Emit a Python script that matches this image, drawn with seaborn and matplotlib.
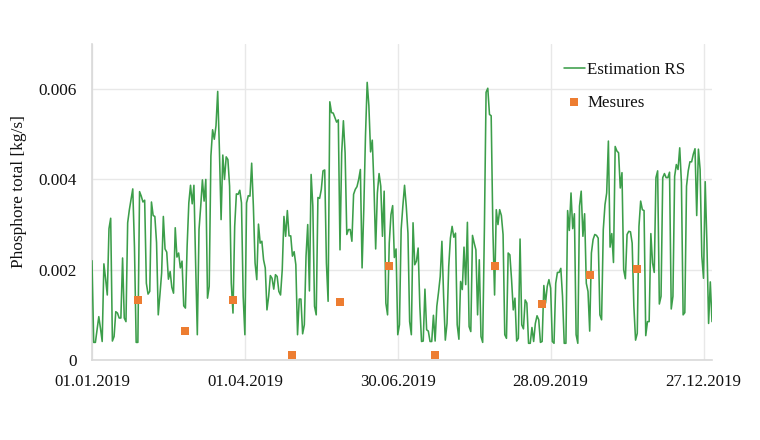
import numpy as np
import pandas as pd
import matplotlib.pyplot as plt
import matplotlib.dates as mdates
import seaborn as sns

# daily estimate, in g/s, from 01.01.2019
estimation_gs = [
    2.2, .39, .39, .68, .96, .7, .41, 2.13, 1.8, 1.44, 2.91, 3.14, .42, .52, 1.07, 1.04, .93, .93, 2.26, .93,
    .85, 3.04, 3.33, 3.56, 3.79, 2.5, .39, .39, 3.73, 3.63, 3.5, 3.54, 1.7, 1.46, 1.52, 3.5, 3.2, 3.18, 2.6, 1.0,
    1.45, 1.93, 3.18, 2.46, 2.39, 1.79, 1.96, 1.61, 1.48, 2.93, 2.28, 2.37, 2.04, 2.19, 1.2, 1.15, 2.52, 3.48, 3.87, 3.46,
    3.87, 2.15, .56, 2.89, 3.4, 3.99, 3.52, 4.0, 1.37, 1.63, 4.52, 5.1, 4.89, 5.19, 5.95, 4.67, 3.11, 4.54, 4.0, 4.5,
    4.44, 3.85, 1.7, 1.04, 2.96, 3.68, 3.67, 3.76, 3.48, 1.41, .56, 3.48, 3.64, 3.63, 4.36, 3.41, 2.15, 1.78, 3.01, 2.59,
    2.63, 2.22, 2.04, 1.11, 1.41, 1.87, 1.81, 1.57, 1.89, 1.85, 1.52, 1.44, 2.0, 3.18, 2.74, 3.31, 2.75, 2.75, 2.3, 2.4,
    2.11, .56, 1.35, 1.35, .58, .78, 2.3, 3.0, 1.53, 4.11, 3.41, 1.19, 1.0, 3.6, 3.58, 3.78, 4.19, 4.21, 2.15, 1.3,
    5.72, 5.48, 5.47, 5.37, 5.27, 5.32, 2.44, 4.59, 5.3, 4.59, 2.78, 2.89, 2.89, 2.63, 3.67, 3.78, 3.84, 4.0, 4.22, 2.04,
    3.33, 4.96, 6.15, 5.63, 4.61, 4.87, 3.85, 2.46, 3.7, 4.13, 3.85, 2.74, 3.74, 1.26, 1.0, 2.59, 3.22, 3.42, 2.27, 2.46,
    .56, .78, 2.89, 3.41, 3.87, 3.41, 2.81, .85, .56, 3.04, 2.11, 2.19, 2.48, 1.19, .41, .42, 1.57, .67, .64, .41,
    .41, .99, .42, 1.19, 1.5, 1.85, 2.63, 1.41, .44, .81, 2.07, 2.7, 2.96, 2.72, 2.81, .78, .46, 1.74, 1.56, 2.5,
    1.67, 3.05, .74, .63, 2.76, 2.59, 2.44, 1.0, 2.22, .52, .39, 2.89, 5.93, 6.02, 5.44, 5.41, 2.89, 1.44, 3.33, 3.0,
    3.33, 3.2, 2.78, .56, .48, 2.37, 2.33, 1.78, 1.11, 1.37, .42, .48, 2.68, .78, .69, 1.33, 1.26, .37, .37, .72,
    .41, .81, .98, .89, .39, .41, 1.65, 1.26, 1.63, 1.78, 1.59, .41, .37, 1.7, 1.94, 1.94, 2.03, 1.41, .37, .37,
    3.31, 2.87, 3.7, 2.91, 3.24, .56, .37, 3.41, 3.74, 2.74, 3.24, 1.7, 1.52, .64, 2.37, 2.67, 2.78, 2.76, 2.7, 1.0,
    .89, 2.89, 3.44, 3.7, 4.85, 2.5, 2.8, 2.16, 4.73, 4.63, 4.59, 3.81, 4.15, 2.0, 1.8, 2.78, 2.85, 2.84, 2.59, 1.19,
    .44, .59, 2.96, 3.52, 3.33, 3.31, .54, .85, .85, 2.8, 2.15, 1.94, 4.04, 4.19, 1.24, 1.41, 4.04, 4.13, 4.04, 4.04,
    4.16, 1.13, 1.41, 4.07, 4.33, 4.22, 4.7, 3.93, 1.0, 1.05, 3.85, 4.19, 4.39, 4.39, 4.56, 4.68, 3.2, 4.67, 4.22, 2.3,
    1.81, 3.95, 2.59, .81, 1.73, .85,
]

mesure_dates = ['2019-01-28', '2019-02-25', '2019-03-25', '2019-04-29', '2019-05-27', '2019-06-25',
                '2019-07-22', '2019-08-26', '2019-09-23', '2019-10-21', '2019-11-18']
mesure_gs = [1.32, .64, 1.33, .11, 1.28, 2.09, .11, 2.08, 1.24, 1.89, 2.01]

tick_dates = ['2019-01-01', '2019-04-01', '2019-06-30', '2019-09-28', '2019-12-27']
y_ticks = [0, 0.002, 0.004, 0.006]
y_labels = ['0', '0.002', '0.004', '0.006']

sns.set_theme(style="whitegrid")
plt.rcParams['font.family'] = ['Liberation Serif', 'DejaVu Serif']

days = pd.date_range('2019-01-01', periods=len(estimation_gs), freq='D')
df_est = pd.DataFrame({'date': days, 'val': np.array(estimation_gs) / 1000})
df_mes = pd.DataFrame({'date': pd.to_datetime(mesure_dates), 'val': np.array(mesure_gs) / 1000})

fig = plt.figure(figsize=(7.6, 4.4), dpi=100)
ax = fig.add_axes([92 / 760, 80 / 440, 620 / 760, 316 / 440])

sns.lineplot(data=df_est, x='date', y='val', color='#3c9e4a', linewidth=1.15, ax=ax, label='Estimation RS', zorder=3)
sns.scatterplot(data=df_mes, x='date', y='val', color='#ed7d31', marker='s', s=36, linewidth=0, ax=ax, label='Mesures', zorder=4)

ax.set_xlim(pd.Timestamp('2019-01-01'), df_est['date'].iloc[-1])
ax.set_ylim(0, 0.007)
ax.set_xticks(pd.to_datetime(tick_dates))
ax.xaxis.set_major_formatter(mdates.DateFormatter('%d.%m.%Y'))
ax.set_yticks(y_ticks)
ax.set_yticklabels(y_labels)
ax.tick_params(axis='x', length=0, labelsize=12.2, labelcolor='#111111', pad=10)
ax.tick_params(axis='y', length=0, labelsize=12.4, labelcolor='#111111', pad=11)
ax.set_xlabel('')
ax.set_ylabel('Phosphore total [kg/s]', fontsize=12.4, color='#111111', labelpad=8, y=0.532)
ax.grid(True, color='#e8e8e8', linewidth=1)
ax.set_axisbelow(True)

for side in ['top', 'right']:
    ax.spines[side].set_visible(False)
for side in ['left', 'bottom']:
    ax.spines[side].set_color('#d9d9d9')
    ax.spines[side].set_linewidth(1.2)

ax.legend(loc='upper left', bbox_to_anchor=(0.748, 0.97), frameon=False, fontsize=12.2,
          labelspacing=1.0, handlelength=1.2, handletextpad=0.15, borderpad=0, labelcolor='#111111')

plt.savefig('out.png', dpi=100)
plt.close()
